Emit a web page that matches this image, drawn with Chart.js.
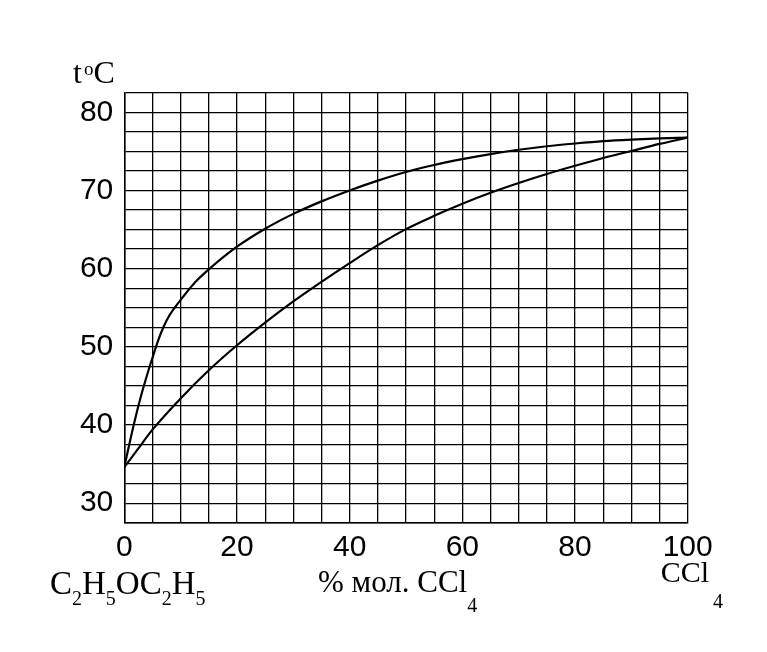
<!DOCTYPE html>
<html>
<head>
<meta charset="utf-8">
<script src="https://cdn.jsdelivr.net/npm/chart.js@4.4.0/dist/chart.umd.min.js"></script>
<style>
  html, body { margin: 0; padding: 0; background: #fff; }
  #wrap { position: relative; width: 767px; height: 652px; }
  canvas { position: absolute; left: 0; top: 0; }
  .lbl { position: absolute; font-family: "Liberation Serif", "Times New Roman", serif; color: #000; white-space: nowrap; }
  .lbl span.s { position: relative; }
</style>
</head>
<body>
<div id="wrap">
  <canvas id="c" width="767" height="652"></canvas>
  <div class="lbl" style="left:73px; top:55.5px; font-size:32px; line-height:32px;">t<span class="s" style="font-size:19px; top:-8px; margin-left:2px;">o</span>C</div>
  <div class="lbl" style="left:50px; top:567px; font-size:33px; line-height:33px;">C<span class="s" style="font-size:20px; top:11px;">2</span>H<span class="s" style="font-size:20px; top:11px;">5</span>OC<span class="s" style="font-size:20px; top:11px;">2</span>H<span class="s" style="font-size:20px; top:11px;">5</span></div>
  <div class="lbl" style="left:318px; top:565.7px; font-size:31px; line-height:31px;">% мол. CCl<span class="s" style="font-size:20px; top:20px;">4</span></div>
  <div class="lbl" style="left:660.7px; top:556.6px; font-size:30px; line-height:30px;">CCl<span class="s" style="font-size:20px; top:26.6px; margin-left:4px;">4</span></div>
</div>
<script>
// Upper curve (vapour)
const xUpper = [0, 1, 2, 3, 4, 5, 6, 7, 8, 10, 12.5, 15, 20, 25, 30, 35, 40, 45, 50, 55, 60, 65, 70, 75, 80, 85, 90, 95, 100];
const tUpper = [34.6, 37.9, 41.0, 43.8, 46.3, 48.6, 50.8, 52.6, 54.0, 56.0, 58.2, 59.9, 62.8, 65.1, 67.0, 68.6, 70.0, 71.25, 72.35, 73.25, 74.0, 74.65, 75.2, 75.65, 76.0, 76.3, 76.5, 76.65, 76.75];
// Lower curve (liquid)
const xLower = [0, 2.5, 5, 10, 15, 20, 25, 30, 35, 40, 45, 50, 55, 60, 65, 70, 75, 80, 85, 90, 95, 100];
const tLower = [34.6, 37.0, 39.4, 43.4, 47.0, 50.2, 53.1, 55.8, 58.3, 60.7, 63.0, 65.05, 66.75, 68.3, 69.7, 70.95, 72.1, 73.15, 74.15, 75.05, 75.95, 76.75];

const xTickLabels = [0, 20, 40, 60, 80, 100];
const yTickLabels = [30, 40, 50, 60, 70, 80];

function pts(xs, ys) { return xs.map((x, i) => ({ x: x, y: ys[i] })); }

const tickFont = { family: "'Liberation Sans', Arial, sans-serif", size: 30 };

new Chart(document.getElementById('c'), {
  type: 'line',
  data: {
    datasets: [
      { data: pts(xUpper, tUpper), borderColor: '#000', borderWidth: 2.2, pointRadius: 0, fill: false, cubicInterpolationMode: 'monotone' },
      { data: pts(xLower, tLower), borderColor: '#000', borderWidth: 2.2, pointRadius: 0, fill: false, cubicInterpolationMode: 'monotone' }
    ]
  },
  options: {
    responsive: false,
    animation: false,
    layout: { padding: { left: 0, top: 92.7, right: 79.3, bottom: 0 } },
    plugins: { legend: { display: false }, tooltip: { enabled: false } },
    scales: {
      x: {
        type: 'linear', min: 0, max: 100,
        afterFit: (s) => { s.height = 129.3; },
        grid: { color: '#000', lineWidth: 1.3, drawTicks: false },
        border: { color: '#000', width: 1.5 },
        ticks: {
          stepSize: 5, color: '#000', font: tickFont, padding: 7, maxRotation: 0, autoSkip: false,
          callback: (v) => { const r = Math.round(v); return xTickLabels.includes(r) && Math.abs(v - r) < 1e-6 ? String(r) : ''; }
        }
      },
      y: {
        type: 'linear', min: 27.5, max: 82.5,
        afterFit: (s) => { s.width = 124.3; },
        grid: { color: '#000', lineWidth: 1.3, drawTicks: false },
        border: { color: '#000', width: 1.5 },
        ticks: {
          stepSize: 2.5, color: '#000', font: tickFont, padding: 11, autoSkip: false,
          callback: (v) => { const r = Math.round(v); return yTickLabels.includes(r) && Math.abs(v - r) < 1e-6 ? String(r) : ''; }
        }
      }
    }
  }
});
</script>
</body>
</html>
